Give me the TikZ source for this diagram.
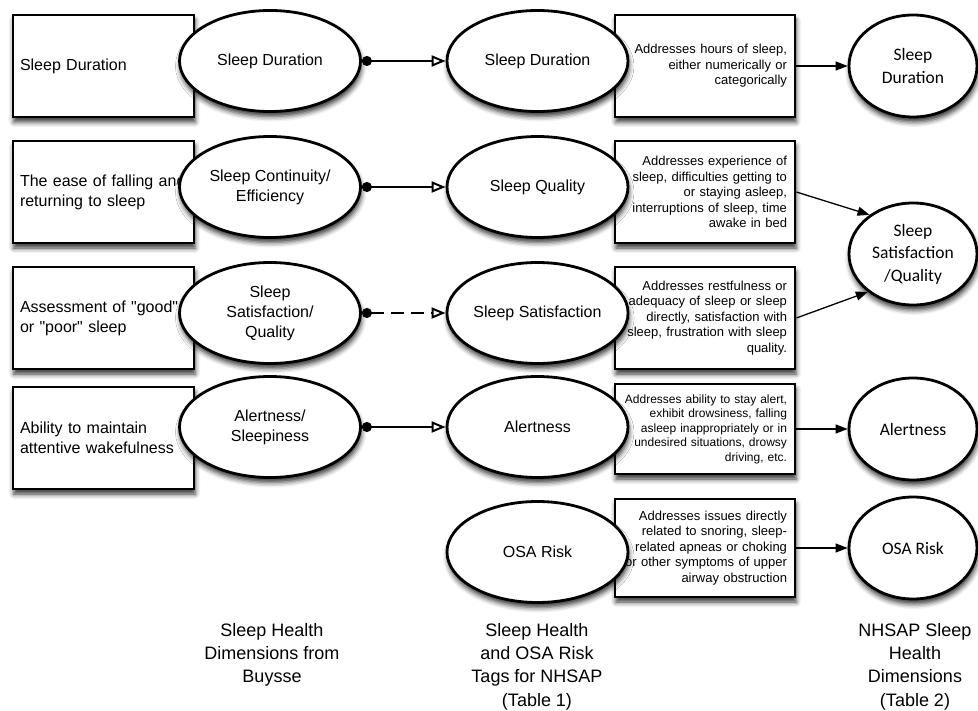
\documentclass[tikz,border=0pt]{standalone}
\usepackage{fontspec}
\setmainfont{Liberation Sans}[Ligatures=TeXOff]
\newfontfamily\calib{Carlito}
\usetikzlibrary{shapes.geometric,arrows.meta,shadows.blur}
\begin{document}
\begin{tikzpicture}[x=1pt,y=-1pt,
  shad/.style={blur shadow={shadow xshift=1pt,shadow yshift=-5pt,shadow blur radius=5pt,shadow opacity=80}},
  lbox/.style={draw,line width=2.8pt,fill=white,shad,minimum height=102pt,text width=167pt,inner xsep=7pt,inner ysep=0pt,align=left,font=\fontsize{16}{20}\selectfont},
  dbox/.style={draw,line width=2.8pt,fill=white,shad,minimum height=102pt,text width=164pt,inner xsep=8pt,inner ysep=0pt,align=right,font=\fontsize{13}{15.5}\selectfont},
  ell/.style={draw,ellipse,line width=2.8pt,fill=white,shad,minimum width=181pt,minimum height=101pt,inner sep=0pt,align=center,font=\fontsize{16}{20}\selectfont},
  rell/.style={draw,ellipse,line width=2.8pt,fill=white,shad,minimum width=128pt,minimum height=102pt,inner sep=0pt,align=center,font=\calib\fontsize{17.5}{22.5}\selectfont},
  conn/.style={line width=2pt,{Circle[length=10pt]}-{Triangle[open,length=14pt,width=11pt]}},
  rarr/.style={line width=1.3pt,-{Triangle[length=12pt,width=9pt]}},
  lab/.style={anchor=north,inner sep=0pt,align=center,font=\fontsize{18}{23.3}\selectfont}
]
\useasboundingbox (0,0) rectangle (978,711);

% left boxes
\node[lbox] (b1) at (103.5,66) {Sleep Duration};
\node[lbox] (b2) at (103.5,192) {The ease of falling and\\returning to sleep};
\node[lbox] (b3) at (103.5,318) {Assessment of "good"\\or "poor" sleep};
\node[lbox] (b4) at (103.5,438) {Ability to maintain\\attentive wakefulness};

% left ellipses
\node[ell] (e1) at (270,61) {Sleep Duration};
\node[ell] (e2) at (270,187) {Sleep Continuity/\\Efficiency};
\node[ell] (e3) at (270,313) {Sleep\\Satisfaction/\\Quality};
\node[ell] (e4) at (270,427) {Alertness/\\Sleepiness};

% description boxes
\node[dbox] (d1) at (705,66) {Addresses hours of sleep,\\either numerically or\\categorically};
\node[dbox] (d2) at (705,192) {Addresses experience of\\sleep, difficulties getting to\\or staying asleep,\\interruptions of sleep, time\\awake in bed};
\node[dbox] (d3) at (705,318) {Addresses restfulness or\\adequacy of sleep or sleep\\directly, satisfaction with\\sleep, frustration with sleep\\quality.};
\node[dbox,minimum height=90pt,font=\fontsize{12}{14.5}\selectfont] (d4) at (705,429) {Addresses ability to stay alert,\\exhibit drowsiness, falling\\asleep inappropriately or in\\undesired situations, drowsy\\driving, etc.};
\node[dbox,minimum height=98pt] (d5) at (705,548) {Addresses issues directly\\related to snoring, sleep-\\related apneas or choking\\or other symptoms of upper\\airway obstruction};

% middle ellipses
\node[ell] (m1) at (537.5,61) {Sleep Duration};
\node[ell] (m2) at (537.5,187) {Sleep Quality};
\node[ell] (m3) at (537.5,313) {Sleep Satisfaction};
\node[ell] (m4) at (537.5,427) {Alertness};
\node[ell] (m5) at (537.5,552) {OSA Risk};

% right ellipses
\node[rell] (r1) at (913,66) {Sleep\\Duration};
\node[rell] (r2) at (913,254) {Sleep\\Satisfaction\\/Quality};
\node[rell] (r3) at (913,429) {Alertness};
\node[rell] (r4) at (913,548) {OSA Risk};

% connectors
\draw[conn] (e1.east) -- (m1.west);
\draw[conn] (e2.east) -- (m2.west);
\draw[conn,dash pattern=on 13pt off 7pt] (e3.east) -- (m3.west);
\draw[conn] (e4.east) -- (m4.west);

\draw[rarr] (d1.east) -- (r1.west);
\draw[rarr] (d2.east) -- (r2.138);
\draw[rarr] (d3.east) -- (r2.220);
\draw[rarr] (d4.east) -- (r3.west);
\draw[rarr] (d5.east) -- (r4.west);

% bottom labels
\node[lab] (l1) at (272,623) {Sleep Health\\Dimensions from\\Buysse};
\node[lab] (l2) at (537,623) {Sleep Health\\and OSA Risk\\Tags for NHSAP\\(Table 1)};
\node[lab] (l3) at (915,623) {NHSAP Sleep\\Health\\Dimensions\\(Table 2)};
\end{tikzpicture}
\end{document}
